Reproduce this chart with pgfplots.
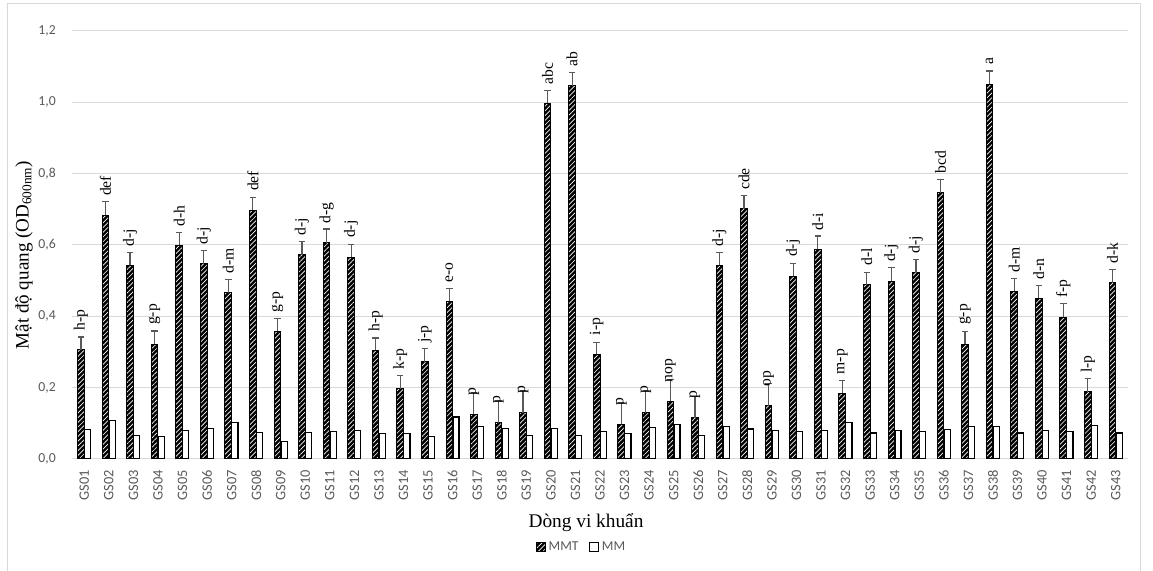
\documentclass[border=0pt]{standalone}
\usepackage{pgfplots}
\pgfplotsset{compat=1.18}
\usepackage{pgfplotstable}
\usepackage{fontspec}
\setmainfont{Liberation Serif}
\newfontfamily\calibri{Carlito}
\usetikzlibrary{patterns.meta}
\definecolor{gridgray}{HTML}{D9D9D9}
\definecolor{tickgray}{HTML}{595959}
\definecolor{errgray}{HTML}{595959}

\pgfplotstableread{
x mmt err mm lab
0 0.307 0.035 0.083 h-p
1 0.684 0.038 0.108 def
2 0.543 0.037 0.067 d-j
3 0.322 0.037 0.062 g-p
4 0.599 0.037 0.081 d-h
5 0.547 0.038 0.085 d-j
6 0.466 0.037 0.102 d-m
7 0.698 0.035 0.074 def
8 0.358 0.036 0.048 g-p
9 0.573 0.036 0.074 d-j
10 0.607 0.038 0.076 d-g
11 0.566 0.035 0.081 d-j
12 0.305 0.034 0.072 h-p
13 0.197 0.036 0.072 k-p
14 0.272 0.037 0.064 j-p
15 0.442 0.037 0.118 e-o
16 0.125 0.062 0.090 p
17 0.102 0.062 0.086 p
18 0.130 0.061 0.067 p
19 0.997 0.037 0.085 abc
20 1.046 0.038 0.065 ab
21 0.293 0.033 0.076 i-p
22 0.097 0.062 0.071 p
23 0.130 0.061 0.088 p
24 0.162 0.061 0.096 nop
25 0.116 0.060 0.065 p
26 0.543 0.036 0.090 d-j
27 0.701 0.037 0.084 cde
28 0.149 0.062 0.079 op
29 0.513 0.036 0.076 d-j
30 0.588 0.037 0.079 d-i
31 0.184 0.037 0.103 m-p
32 0.489 0.035 0.073 d-l
33 0.499 0.037 0.079 d-j
34 0.522 0.037 0.076 d-j
35 0.747 0.036 0.082 bcd
36 0.322 0.036 0.090 g-p
37 1.051 0.037 0.090 a
38 0.470 0.037 0.073 d-m
39 0.450 0.037 0.079 d-n
40 0.398 0.038 0.077 f-p
41 0.188 0.038 0.093 l-p
42 0.494 0.038 0.073 d-k
}\data

\begin{document}
\begin{tikzpicture}
\useasboundingbox (0pt,0pt) rectangle (864.75pt,428.25pt);
\draw[gridgray, line width=0.75pt] (5.25pt,-2pt) -- (5.25pt,425.25pt) -- (855pt,425.25pt) -- (855pt,-2pt);
\begin{axis}[
  at={(54pt,84pt)}, anchor=south west,
  scale only axis, width=792pt, height=321pt,
  xmin=-0.5, xmax=42.5, ymin=0, ymax=1.2,
  ytick={0,0.2,...,1.2},
  xtick={0,...,42},
  xticklabels={GS01,GS02,GS03,GS04,GS05,GS06,GS07,GS08,GS09,GS10,GS11,GS12,GS13,GS14,GS15,GS16,GS17,GS18,GS19,GS20,GS21,GS22,GS23,GS24,GS25,GS26,GS27,GS28,GS29,GS30,GS31,GS32,GS33,GS34,GS35,GS36,GS37,GS38,GS39,GS40,GS41,GS42,GS43},
  axis line style={draw=none},
  major tick length=0pt,
  ymajorgrids, grid style={gridgray, line width=0.75pt},
  /pgf/number format/.cd, use comma, fixed, fixed zerofill, precision=1, assume math mode=true,
  /pgfplots/.cd,
  yticklabel style={font=\calibri\fontsize{10.3}{12}\selectfont, text=tickgray, anchor=east, inner sep=0pt},
  yticklabel shift=12pt,
  xticklabel style={font=\calibri\fontsize{10.8}{12}\selectfont, text=tickgray, rotate=90, anchor=east, inner sep=0pt},
  xticklabel shift=8pt,
  legend style={at={(axis description cs:0.483,-0.2056)}, anchor=center, draw=none, fill=none,
    font=\calibri\fontsize{10.2}{12}\selectfont, text=tickgray, legend columns=-1,
    /tikz/every even column/.append style={column sep=6pt}, inner sep=0pt},
  legend image code/.code={\draw[#1] (0pt,-3.3pt) rectangle (6.6pt,3.3pt);},
]
\addplot[ybar, bar width=5pt, bar shift=0pt, draw=black, line width=0.75pt, fill=black,
  postaction={pattern={Lines[angle=45,distance=2.5pt,line width=0.5pt]}, pattern color=white},
  error bars/.cd, y dir=plus, y explicit,
  error bar style={errgray, line width=0.9pt},
  error mark options={rotate=90, errgray, line width=0.9pt, mark size=2.4pt}]
  table[x expr=\thisrow{x}-0.135, y=mmt, y error=err] {\data};
\addlegendentry{MMT}
\addplot[ybar, bar width=4.6pt, bar shift=0pt, draw=black, line width=0.9pt, fill=white]
  table[x expr=\thisrow{x}+0.135, y=mm] {\data};
\addlegendentry{MM}
\addplot[draw=none, mark=none, forget plot, point meta=explicit symbolic,
  nodes near coords,
  every node near coord/.append style={rotate=90, anchor=west, inner sep=0pt,
    font=\fontsize{11.7}{13}\selectfont, text=black}]
  table[x expr=\thisrow{x}-0.135, y expr=\thisrow{mmt}+0.053, meta=lab] {\data};
\end{axis}
\node[rotate=90, font=\fontsize{14.3}{16}\selectfont] at (18pt,237pt) {Mật độ quang (OD\textsubscript{600nm})};
\node[font=\fontsize{14.5}{16}\selectfont] at (439.5pt,36pt) {Dòng vi khuẩn};
\end{tikzpicture}
\end{document}
